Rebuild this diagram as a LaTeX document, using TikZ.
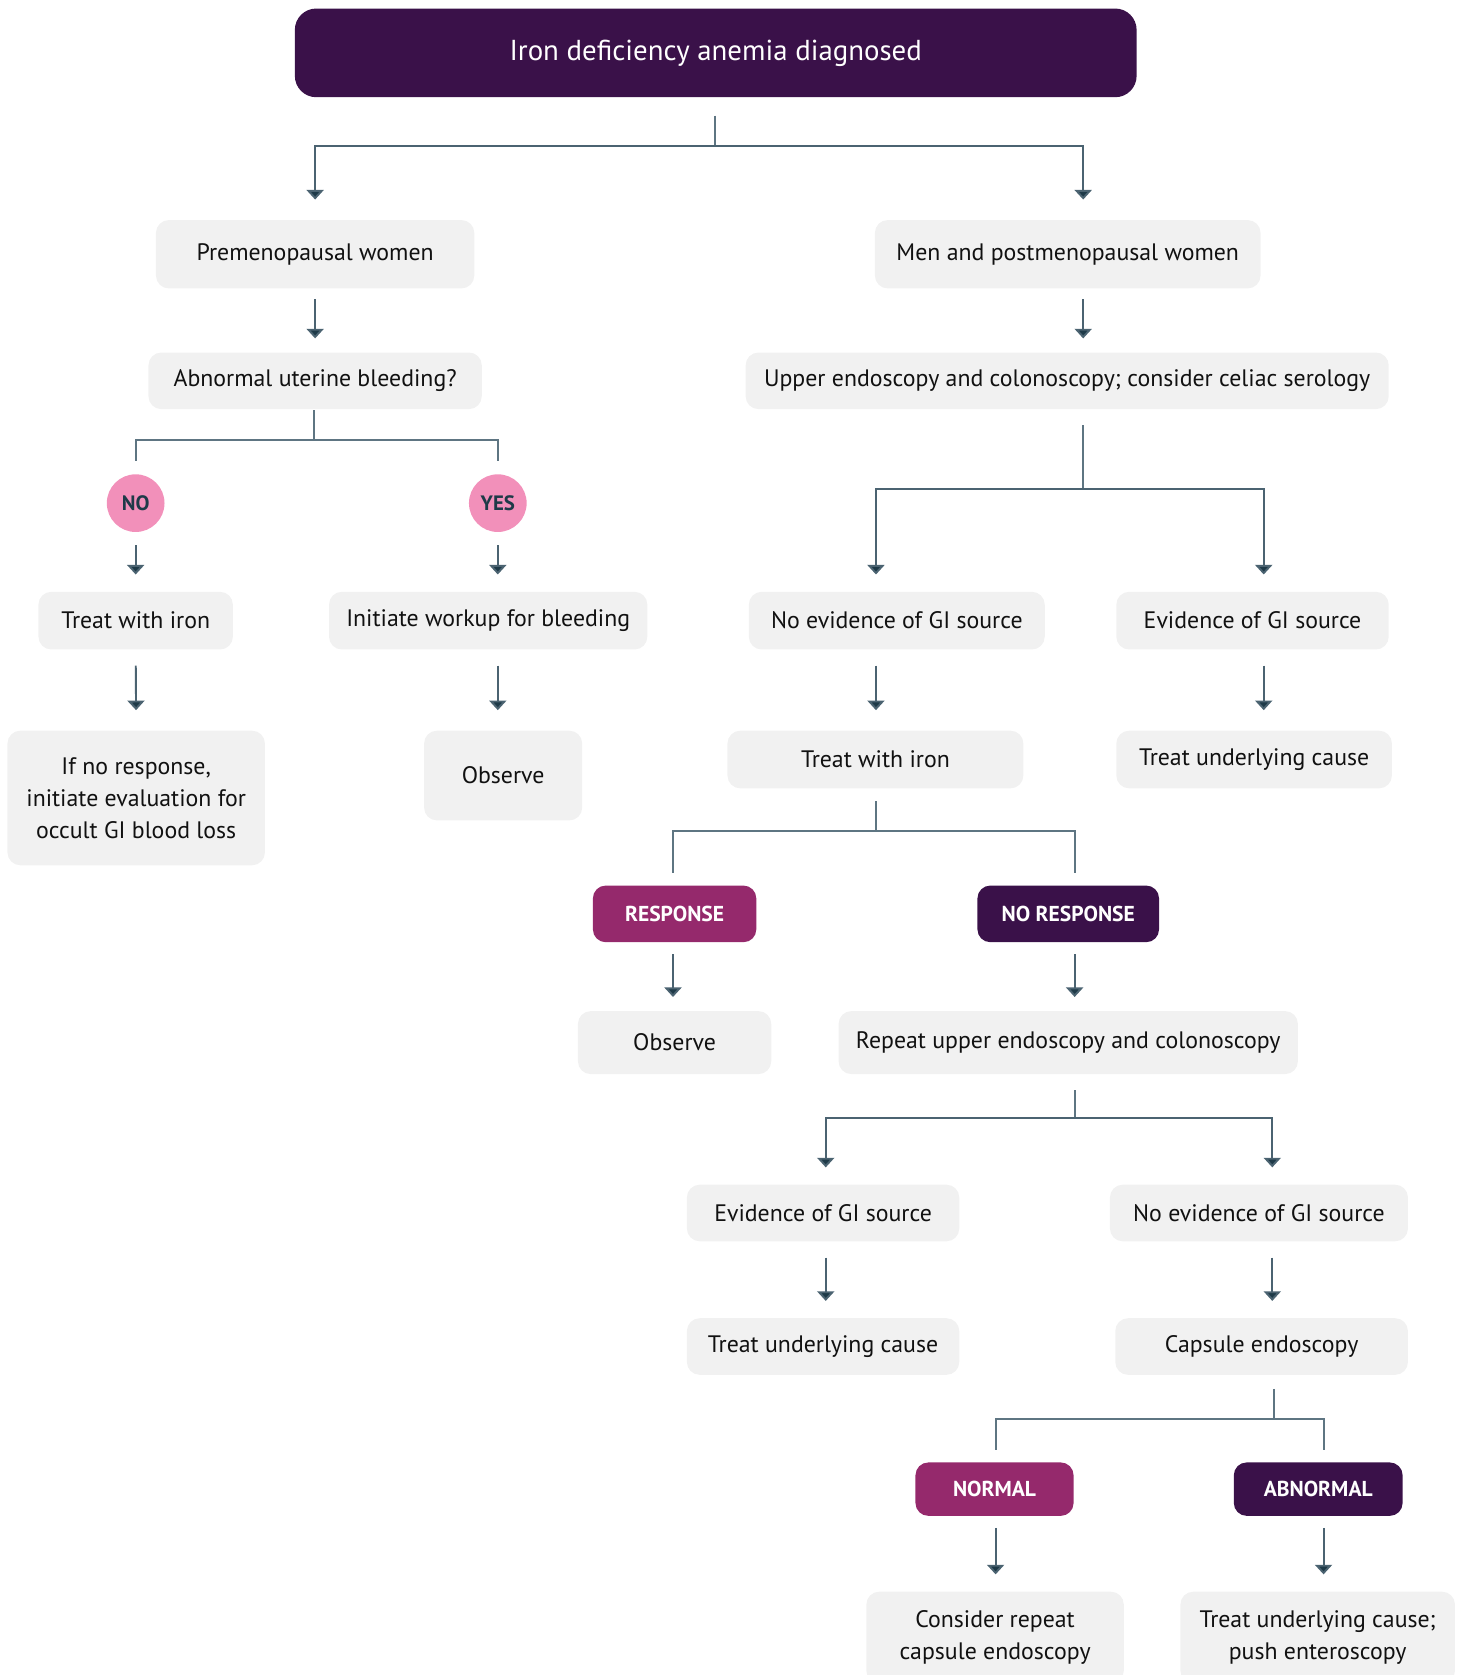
\documentclass[tikz,border=0pt]{standalone}
\usepackage{fontspec}
\setmainfont{PT Sans}
\usetikzlibrary{arrows.meta}

\definecolor{plum}{HTML}{3A1149}
\definecolor{berry}{HTML}{95296C}
\definecolor{blush}{HTML}{F290BA}
\definecolor{boxgray}{HTML}{F1F1F1}
\definecolor{ink}{HTML}{111111}
\definecolor{slate}{HTML}{5E7582}
\definecolor{navy}{HTML}{1E3A48}

\tikzset{
  box/.style={fill=boxgray, rounded corners=12pt, minimum height=54pt, inner sep=0pt,
    align=center, text=ink, font=\fontsize{22.3}{30}\selectfont},
  tagm/.style={fill=berry, rounded corners=12pt, minimum height=53pt, inner sep=0pt,
    text=white, font=\bfseries\fontsize{20.2}{24}\selectfont},
  tagd/.style={tagm, fill=plum},
  circ/.style={circle, fill=blush, minimum size=54pt, inner sep=0pt,
    text=navy, font=\bfseries\fontsize{19.5}{24}\selectfont},
  ln/.style={draw=slate, line width=1.8pt},
  arr/.style={draw=slate!70!navy, line width=1.8pt,
    -{Triangle[width=16pt,length=9pt,fill=navy]},
    shorten <=13pt, shorten >=15pt}
}

\begin{document}
\begin{tikzpicture}[x=1pt,y=-1pt]
\useasboundingbox (0,0) rectangle (1368,1568);
\clip (0,0) rectangle (1368,1568);

% head
\node[fill=plum, rounded corners=20pt, minimum width=788pt, minimum height=83pt,
  text=white, font=\fontsize{27}{30}\selectfont] (head) at (670,49.5)
  {Iron deficiency anemia diagnosed};

% left branch
\node[box, minimum width=298pt, minimum height=64pt] (prem) at (295,238) {Premenopausal women};
\node[box, minimum width=312pt, minimum height=53pt] (abn) at (295,356.5) {Abnormal uterine bleeding?};
\node[circ] (no) at (127,471) {NO};
\node[circ] (yes) at (466,471) {YES};
\node[box, minimum width=182pt] (ironA) at (127,581) {Treat with iron};
\node[box, minimum width=298pt] (work) at (457,581) {Initiate workup for bleeding};
\node[box, minimum width=241pt, minimum height=126pt] (occult) at (127.5,747)
  {If no response,\\initiate evaluation for\\occult GI blood loss};
\node[box, minimum width=148pt, minimum height=84pt] (obsA) at (471,726) {Observe};

% right branch
\node[box, minimum width=361pt, minimum height=64pt] (men) at (999.5,238) {Men and postmenopausal women};
\node[box, minimum width=602pt, minimum height=53pt] (upper) at (999,356.5)
  {Upper endoscopy and colonoscopy; consider celiac serology};
\node[box, minimum width=277pt] (noevA) at (839.5,581) {No evidence of GI source};
\node[box, minimum width=255pt] (evA) at (1172.5,581) {Evidence of GI source};
\node[box, minimum width=277pt] (ironB) at (819.5,711) {Treat with iron};
\node[box, minimum width=258pt] (causeA) at (1174,711) {Treat underlying cause};
\node[tagm, minimum width=153pt] (resp) at (631.5,855.5) {RESPONSE};
\node[tagd, minimum width=170pt] (noresp) at (1000,855.5) {NO RESPONSE};
\node[box, minimum width=181pt, minimum height=59pt] (obsB) at (631.5,976) {Observe};
\node[box, minimum width=430pt, minimum height=59pt] (repeat) at (1000,976)
  {Repeat upper endoscopy and colonoscopy};
\node[box, minimum width=255pt, minimum height=53pt] (evB) at (770.5,1135.5) {Evidence of GI source};
\node[box, minimum width=279pt, minimum height=53pt] (noevB) at (1178.5,1135.5) {No evidence of GI source};
\node[box, minimum width=255pt, minimum height=53pt] (causeB) at (770.5,1260.5) {Treat underlying cause};
\node[box, minimum width=274pt, minimum height=53pt] (capsule) at (1181,1260.5) {Capsule endoscopy};
\node[tagm, minimum width=148pt, minimum height=50pt] (normal) at (931,1394) {NORMAL};
\node[tagd, minimum width=158pt, minimum height=50pt] (abnormal) at (1234,1394) {ABNORMAL};
\node[box, minimum width=241pt, minimum height=86pt] (again) at (931.5,1533)
  {Consider repeat\\capsule endoscopy};
\node[box, minimum width=257pt, minimum height=86pt] (push) at (1233.5,1533)
  {Treat underlying cause;\\push enteroscopy};

% arrow columns
\coordinate (cR) at (1014,0);
\coordinate (cA) at (820,0);
\coordinate (cB) at (1183,0);
\coordinate (cC) at (630,0);
\coordinate (cD) at (1006,0);
\coordinate (cE) at (773,0);
\coordinate (cF) at (1191,0);
\coordinate (cG) at (932,0);
\coordinate (cH) at (1239,0);

% junctions
\coordinate (j0) at (669,137);
\coordinate (j1) at (294,412);
\coordinate (j2) at (1014,458);
\coordinate (j3) at (820,778);
\coordinate (j4) at (1006,1047);
\coordinate (j5) at (1193,1328);

% head split
\draw[ln, shorten <=17pt] (j0 |- head.south) -- (j0);
\draw[arr, shorten <=0pt, shorten >=19pt] (j0) -| (prem.north);
\draw[arr, shorten <=0pt, shorten >=19pt] (j0) -| (cR |- men.north);

% left side
\draw[arr, shorten <=10pt, shorten >=13pt] (prem.south) -- (abn.north);
\draw[ln, shorten <=1pt] (j1 |- abn.south) -- (j1);
\draw[ln, shorten >=12pt] (j1) -| (no.north);
\draw[ln, shorten >=12pt] (j1) -| (yes.north);
\draw[arr, shorten <=12pt, shorten >=16pt] (no.south) -- (no.south |- ironA.north);
\draw[arr, shorten <=12pt, shorten >=16pt] (yes.south) -- (yes.south |- work.north);
\draw[arr, shorten <=15pt, shorten >=19pt] (ironA.south) -- (occult.north);
\draw[arr, shorten <=15pt, shorten >=19pt] (yes |- work.south) -- (yes |- obsA.north);

% right side
\draw[arr, shorten <=10pt, shorten >=13pt] (cR |- men.south) -- (cR |- upper.north);
\draw[ln, shorten <=15pt] (j2 |- upper.south) -- (j2);
\draw[arr, shorten <=0pt, shorten >=16pt] (j2) -| (cA |- noevA.north);
\draw[arr, shorten <=0pt, shorten >=16pt] (j2) -| (cB |- evA.north);
\draw[arr, shorten <=15pt, shorten >=19pt] (cA |- noevA.south) -- (cA |- ironB.north);
\draw[arr, shorten <=15pt, shorten >=19pt] (cB |- evA.south) -- (cB |- causeA.north);
\draw[ln, shorten <=12pt] (j3 |- ironB.south) -- (j3);
\draw[ln, shorten >=12pt] (j3) -| (cC |- resp.north);
\draw[ln, shorten >=12pt] (j3) -| (cD |- noresp.north);
\draw[arr, shorten <=11pt, shorten >=13pt] (cC |- resp.south) -- (cC |- obsB.north);
\draw[arr, shorten <=11pt, shorten >=13pt] (cD |- noresp.south) -- (cD |- repeat.north);
\draw[ln, shorten <=15pt] (j4 |- repeat.south) -- (j4);
\draw[arr, shorten <=0pt, shorten >=16pt] (j4) -| (cE |- evB.north);
\draw[arr, shorten <=0pt, shorten >=16pt] (j4) -| (cF |- noevB.north);
\draw[arr, shorten <=15pt, shorten >=16pt] (cE |- evB.south) -- (cE |- causeB.north);
\draw[arr, shorten <=15pt, shorten >=16pt] (cF |- noevB.south) -- (cF |- capsule.north);
\draw[ln, shorten <=13pt] (j5 |- capsule.south) -- (j5);
\draw[ln, shorten >=11pt] (j5) -| (cG |- normal.north);
\draw[ln, shorten >=11pt] (j5) -| (cH |- abnormal.north);
\draw[arr, shorten <=11pt, shorten >=16pt] (cG |- normal.south) -- (cG |- again.north);
\draw[arr, shorten <=11pt, shorten >=16pt] (cH |- abnormal.south) -- (cH |- push.north);
\end{tikzpicture}
\end{document}
